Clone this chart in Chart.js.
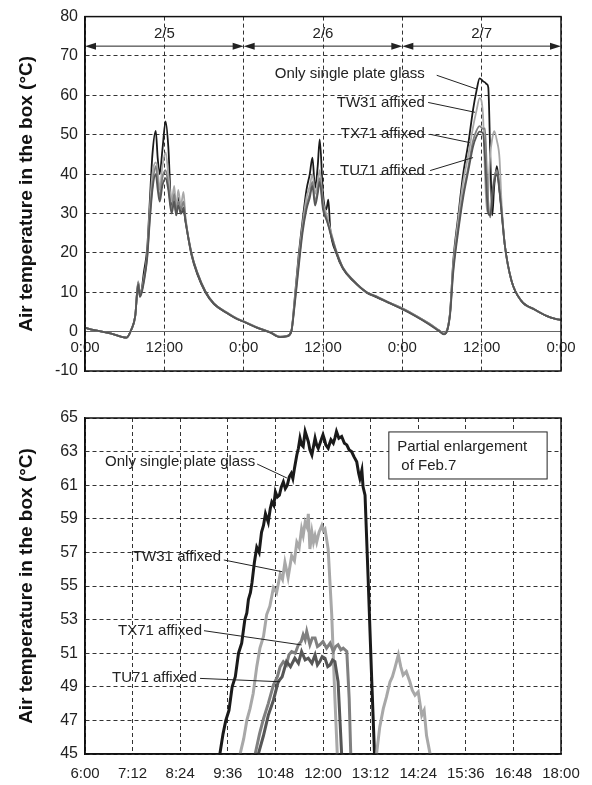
<!DOCTYPE html>
<html>
<head>
<meta charset="utf-8">
<script src="https://cdn.jsdelivr.net/npm/chart.js@4.4.1/dist/chart.umd.min.js"></script>
<style>
  body { margin: 0; background: #fff; }
  .box { position: relative; width: 592px; }
</style>
</head>
<body>
<div class="box" style="height:390px"><canvas id="fullChart" width="592" height="390"></canvas></div>
<div class="box" style="height:395px"><canvas id="zoomChart" width="592" height="395"></canvas></div>
<script>
// ---- data: three days (hours since 2/5 0:00) ----
const seriesNames = ['Only single plate glass', 'TW31 affixed', 'TX71 affixed', 'TU71 affixed'];
const seriesColors = ['#1a1a1a', '#a8a8a8', '#808080', '#565656'];

const topHours = [
  0, 1, 2, 4, 6.3, 7, 7.6, 8.05, 8.3, 8.6, 8.9, 9.4, 9.8, 10.2, 10.7, 11.0, 11.3, 11.7, 12.2, 12.6,
  13.1, 13.5, 13.8, 14.1, 14.5, 14.9, 15.2, 16.1, 17, 18.2, 19.5, 21.4, 23, 24, 26, 28, 29.5, 30.5, 31.2, 31.7,
  32.3, 32.9, 33.5, 34.0, 34.4, 34.8, 35.2, 35.5, 36.0, 36.5, 36.8, 37.1, 38, 39, 40.6, 42.6, 44, 46, 48, 50,
  52, 53.5, 54.3, 55.2, 55.7, 56.5, 57.2, 58, 58.7, 59.2, 59.7, 60.2, 60.5, 60.8, 61.0, 61.3, 61.6, 61.9, 62.3, 62.7,
  63, 63.5, 64.5, 66, 68, 69.8, 71.3, 72
];
const glassTop = [
  1.0, 0.5, 0.2, -0.5, -1.5, 0.5, 4, 12.5, 9.5, 11, 15, 21, 33, 45, 51, 44, 40, 46, 53.4, 47,
  31, 34, 30, 34, 30, 31, 28, 19.5, 14.5, 10, 7, 4.8, 3.2, 2.5, 1.0, -0.2, -1.4, -1.2, 0, 8,
  19, 28, 36, 40, 44.2, 36.5, 42, 48.8, 35, 31, 33.5, 26, 20, 16, 12.8, 9.9, 8.8, 7.3, 5.8, 4,
  2, 0.3, -0.6, 4.5, 17.8, 30, 40, 48, 56.4, 61, 64.3, 63.6, 63.3, 62.8, 62, 45, 29.5, 37, 42, 36,
  31, 22, 13, 7.8, 5.6, 4, 3.2, 3
];
const tw31Top = [
  1.0, 0.5, 0.2, -0.5, -1.5, 0.5, 4, 12.8, 9, 10.5, 13.5, 19.5, 31, 40, 43, 41, 36, 42, 45.5, 40,
  33, 37, 31, 36, 32, 35.5, 29, 20, 15, 10.3, 7.2, 4.9, 3.3, 2.6, 1.1, -0.1, -1.3, -1.1, 0, 7.5,
  18, 27, 34, 37, 40, 35, 38, 41, 33, 30, 28, 26, 20.5, 16.3, 13, 10, 9, 7.4, 5.9, 4.1,
  2.1, 0.4, -0.5, 4.5, 17, 29, 38, 45, 52, 56, 59.3, 55, 40, 30.5, 36, 45, 49, 50.9, 48.5, 44,
  33, 22, 13, 7.8, 5.6, 4, 3.2, 3
];
const tx71Top = [
  1.0, 0.5, 0.2, -0.5, -1.5, 0.5, 4, 12.5, 9, 10.5, 13, 19, 29, 37, 42, 38, 34, 39, 41, 37,
  31, 35, 30, 33, 31, 33, 28.5, 20, 15, 10.3, 7.2, 4.9, 3.3, 2.6, 1.1, -0.1, -1.3, -1.1, 0, 7,
  17, 26, 32, 35, 38, 33, 36, 39, 32, 29, 27, 25.5, 20.5, 16.3, 13, 10, 9, 7.4, 5.9, 4.1,
  2.1, 0.4, -0.5, 4.3, 16, 27, 35, 42, 48.5, 51, 52.2, 51.5, 51.6, 40, 33, 29, 35, 39, 41, 36,
  31, 22, 13, 7.8, 5.6, 4, 3.2, 3
];
const tu71Top = [
  1.0, 0.5, 0.2, -0.5, -1.5, 0.5, 4, 12, 8.8, 10, 12.5, 18.5, 28, 36, 40, 36, 33, 37, 39, 36,
  30, 33, 29.5, 32, 30, 31.5, 28, 19.8, 14.8, 10.2, 7.1, 4.8, 3.2, 2.5, 1.0, -0.2, -1.4, -1.2, 0, 6.5,
  16, 25, 31, 34, 37, 32, 35, 38, 31, 28.5, 27, 25, 20.2, 16.2, 12.9, 10, 8.9, 7.3, 5.7, 3.9,
  1.9, 0.2, -0.7, 4, 15, 26, 34, 41, 47, 49.5, 50.8, 50.4, 44, 34, 30, 29.5, 34, 38, 40, 35.5,
  30.5, 22, 13, 7.8, 5.6, 4, 3.2, 3
];
const topTickHours = [0, 12, 24, 36, 48, 60, 72];
const topTickLabels = ['0:00', '12:00', '0:00', '12:00', '0:00', '12:00', '0:00'];
const dayLabels = ['2/5', '2/6', '2/7'];
const dayStarts = [0, 24, 48];

// ---- data: Feb.7 enlargement (clock hours) ----
const glassHours = [9.30, 9.40, 9.48, 9.55, 9.63, 9.71, 9.79, 9.87, 9.95, 10.03, 10.08, 10.12, 10.17, 10.21, 10.27, 10.33, 10.39, 10.45, 10.50, 10.55,
  10.62, 10.67, 10.71, 10.76, 10.80, 10.85, 10.90, 10.95, 11.00, 11.05, 11.10, 11.15, 11.20, 11.24, 11.28, 11.34, 11.38, 11.42, 11.46, 11.50,
  11.55, 11.59, 11.63, 11.67, 11.72, 11.76, 11.80, 11.84, 11.88, 11.94, 12.00, 12.04, 12.07, 12.13, 12.17, 12.20, 12.26, 12.30, 12.34, 12.40,
  12.47, 12.54, 12.60, 12.66, 12.72, 12.78, 12.85, 12.90, 12.93, 12.98, 13.01, 13.06, 13.14, 13.23, 13.30, 13.36];
const glassZoom = [44.0, 45.0, 46.2, 47.0, 47.6, 49.0, 49.6, 51.0, 51.6, 53.0, 53.4, 54.2, 54.6, 55.2, 56.4, 57.3, 57.0, 58.2, 58.6, 59.3,
  58.8, 59.6, 60.0, 59.8, 60.6, 60.3, 60.4, 60.9, 61.2, 60.8, 61.0, 61.5, 61.7, 61.4, 62.0, 62.8, 63.2, 63.8, 63.4, 63.3,
  64.2, 63.9, 63.6, 63.1, 62.8, 63.3, 63.8, 63.4, 63.2, 63.6, 64.0, 63.7, 63.4, 63.2, 63.5, 63.7, 63.5, 63.8, 64.2, 63.8,
  63.9, 63.5, 63.4, 63.1, 63.0, 62.7, 62.4, 61.7, 61.4, 61.9, 60.9, 60.4, 55.3, 49.3, 44.9, 43.0];
const tw31Hours = [9.85, 9.91, 10.00, 10.08, 10.16, 10.24, 10.33, 10.41, 10.50, 10.58, 10.66, 10.75, 10.83, 10.92, 10.98, 11.04, 11.12, 11.21, 11.28, 11.34,
  11.40, 11.46, 11.50, 11.55, 11.60, 11.63, 11.67, 11.72, 11.76, 11.80, 11.84, 11.90, 11.97, 12.01, 12.05, 12.13, 12.22, 12.30, 12.36, 12.42,
  13.30, 13.35, 13.43, 13.52, 13.60, 13.69, 13.75, 13.81, 13.90, 13.96, 14.02, 14.10, 14.19, 14.25, 14.32, 14.40, 14.49, 14.55, 14.61, 14.70, 14.76];
const tw31Zoom = [44.0, 45.0, 45.9, 47.0, 47.7, 48.6, 50.2, 51.3, 52.0, 53.3, 53.8, 54.9, 54.6, 55.7, 55.4, 56.4, 55.5, 56.8, 56.5, 57.6,
  57.3, 58.4, 58.0, 58.8, 58.5, 59.3, 57.2, 58.2, 57.6, 58.0, 57.6, 58.2, 58.6, 58.3, 58.4, 57.2, 53.3, 48.3, 45.0, 43.0,
  43.5, 45.0, 46.6, 47.7, 48.4, 49.3, 49.6, 50.1, 50.9, 50.2, 49.7, 49.9, 49.3, 48.8, 48.5, 48.7, 47.3, 47.6, 46.1, 45.0, 44.0];
const tx71Hours = [10.22, 10.29, 10.40, 10.50, 10.62, 10.75, 10.85, 10.92, 11.00, 11.08, 11.14, 11.21, 11.30, 11.38, 11.45, 11.50, 11.55, 11.59,
  11.67, 11.73, 11.80, 11.86, 11.92, 12.00, 12.09, 12.18, 12.26, 12.32, 12.38, 12.45, 12.51, 12.60, 12.66, 12.70, 12.75];
const tx71Zoom = [44.0, 45.0, 46.2, 47.1, 48.0, 49.1, 49.6, 50.2, 50.5, 50.3, 50.9, 51.1, 51.0, 51.5, 51.7, 52.1, 51.8, 52.3,
  51.5, 51.9, 51.9, 51.4, 51.5, 51.7, 51.3, 51.6, 51.1, 51.4, 51.5, 51.2, 51.3, 51.1, 48.3, 45.0, 44.0];
const tu71Hours = [10.30, 10.37, 10.50, 10.62, 10.75, 10.87, 10.97, 11.08, 11.18, 11.29, 11.38, 11.46, 11.55, 11.63,
  11.72, 11.80, 11.86, 11.92, 11.98, 12.05, 12.12, 12.18, 12.24, 12.30, 12.38, 12.47, 12.52];
const tu71Zoom = [44.0, 45.0, 46.1, 47.3, 48.2, 49.3, 49.6, 50.5, 50.2, 50.7, 50.4, 51.1, 50.6, 50.7,
  50.4, 50.9, 50.3, 50.5, 50.8, 50.7, 50.2, 50.3, 50.6, 50.5, 49.3, 45.0, 44.0];
const zoomTickHours = [6, 7.2, 8.4, 9.6, 10.8, 12, 13.2, 14.4, 15.6, 16.8, 18];
const zoomTickLabels = ['6:00', '7:12', '8:24', '9:36', '10:48', '12:00', '13:12', '14:24', '15:36', '16:48', '18:00'];

const FONT = '"Liberation Sans", Arial, Helvetica, sans-serif';
const yTitle = 'Air temperature in the box (\u00B0C)';

function toPoints(xs, ys) {
  return xs.map((x, i) => ({ x: x, y: ys[i] }));
}

// frame, leader lines, note texts, day arrows, box
const notesPlugin = {
  id: 'notes',
  afterDatasetsDraw(chart, args, opts) {
    const { ctx, chartArea: a, scales } = chart;
    const X = v => scales.x.getPixelForValue(v);
    const Y = v => scales.y.getPixelForValue(v);
    ctx.save();
    ctx.setLineDash([]);
    ctx.strokeStyle = '#111';
    ctx.lineWidth = 1.5;
    ctx.strokeRect(a.left, a.top, a.right - a.left, a.bottom - a.top);

    ctx.lineWidth = 1;
    ctx.strokeStyle = '#222';
    (opts.leaders || []).forEach(l => {
      ctx.beginPath();
      ctx.moveTo(X(l[0]), Y(l[1]));
      ctx.lineTo(X(l[2]), Y(l[3]));
      ctx.stroke();
    });

    ctx.font = '15px ' + FONT;
    ctx.fillStyle = '#222';
    ctx.textBaseline = 'middle';
    (opts.labels || []).forEach(t => {
      ctx.textAlign = t.align || 'right';
      ctx.fillText(t.text, X(t.x), Y(t.y));
    });

    if (opts.days) {
      const d = opts.days;
      d.starts.forEach((s, i) => {
        const x1 = X(s), x2 = X(s + d.span), y = Y(d.arrowY);
        ctx.beginPath();
        ctx.moveTo(x1 + 8, y);
        ctx.lineTo(x2 - 8, y);
        ctx.stroke();
        ctx.beginPath();
        ctx.moveTo(x1, y); ctx.lineTo(x1 + 11, y - 3.5); ctx.lineTo(x1 + 11, y + 3.5); ctx.closePath();
        ctx.moveTo(x2, y); ctx.lineTo(x2 - 11, y - 3.5); ctx.lineTo(x2 - 11, y + 3.5); ctx.closePath();
        ctx.fill();
        ctx.textAlign = 'center';
        ctx.fillText(d.labels[i], X(s + d.span / 2), Y(d.labelY));
      });
    }

    if (opts.box) {
      const b = opts.box;
      const bx = X(b.x1), by = Y(b.y1);
      ctx.fillStyle = '#fff';
      ctx.fillRect(bx, by, X(b.x2) - bx, Y(b.y2) - by);
      ctx.strokeStyle = '#222';
      ctx.lineWidth = 1;
      ctx.strokeRect(bx, by, X(b.x2) - bx, Y(b.y2) - by);
      ctx.fillStyle = '#222';
      ctx.textAlign = 'left';
      b.lines.forEach(t => ctx.fillText(t.text, X(t.x), Y(t.y)));
    }
    ctx.restore();
  }
};

function lineSet(i, xs, ys, width, smooth) {
  const ds = {
    label: seriesNames[i],
    data: toPoints(xs, ys),
    borderColor: seriesColors[i],
    borderWidth: width,
    pointRadius: 0,
    tension: 0,
    clip: 0,
    order: 4 - i
  };
  if (smooth) {
    ds.cubicInterpolationMode = 'monotone';
  }
  return ds;
}

const yTitleOpts = {
  display: true,
  text: yTitle,
  color: '#111',
  font: { family: FONT, size: 19, weight: 'bold' },
  padding: { top: 15, bottom: 0 }
};

// ---- top chart: 2/5 - 2/7 ----
new Chart(document.getElementById('fullChart'), {
  type: 'line',
  data: {
    datasets: [
      lineSet(0, topHours, glassTop, 1.8, true),
      lineSet(1, topHours, tw31Top, 1.8, true),
      lineSet(2, topHours, tx71Top, 1.8, true),
      lineSet(3, topHours, tu71Top, 1.8, true)
    ]
  },
  options: {
    responsive: false,
    animation: false,
    layout: { padding: { left: 0, right: 31, top: 13, bottom: 19 } },
    plugins: {
      legend: { display: false },
      tooltip: { enabled: false },
      notes: {
        labels: [
          { text: 'Only single plate glass', x: 51.4, y: 65.4 },
          { text: 'TW31 affixed', x: 51.4, y: 58.0 },
          { text: 'TX71 affixed', x: 51.4, y: 50.1 },
          { text: 'TU71 affixed', x: 51.4, y: 40.9 }
        ],
        leaders: [
          [53.2, 65.1, 59.25, 61.6],
          [51.9, 58.2, 59.0, 55.7],
          [52.2, 50.1, 58.2, 48.0],
          [52.2, 40.9, 58.7, 44.2]
        ],
        days: { starts: dayStarts, span: 24, labels: dayLabels, arrowY: 72.5, labelY: 75.6 }
      }
    },
    scales: {
      x: {
        type: 'linear',
        position: { y: 0 },
        min: 0,
        max: 72,
        afterBuildTicks: s => { s.ticks = topTickHours.map(v => ({ value: v })); },
        ticks: {
          callback: (v, i) => topTickLabels[i],
          font: { family: FONT, size: 15 },
          color: '#222',
          padding: 7,
          maxRotation: 0,
          autoSkip: false
        },
        grid: { color: '#333', lineWidth: 1, drawTicks: false },
        border: { display: true, color: '#666', width: 1, dash: [4, 3] }
      },
      y: {
        min: -10,
        max: 80,
        afterFit: s => { s.width = 85; },
        ticks: {
          stepSize: 10,
          font: { family: FONT, size: 16 },
          color: '#222',
          padding: 7
        },
        grid: {
          color: c => (c.tick && c.tick.value === 0 ? 'rgba(0,0,0,0)' : '#333'),
          lineWidth: 1,
          drawTicks: false
        },
        border: { display: true, color: '#111', width: 1.5, dash: [4, 3] },
        title: yTitleOpts
      }
    }
  },
  plugins: [notesPlugin]
});

// ---- bottom chart: partial enlargement of Feb.7 ----
new Chart(document.getElementById('zoomChart'), {
  type: 'line',
  data: {
    datasets: [
      lineSet(0, glassHours, glassZoom, 3, false),
      lineSet(1, tw31Hours, tw31Zoom, 3, false),
      lineSet(2, tx71Hours, tx71Zoom, 3, false),
      lineSet(3, tu71Hours, tu71Zoom, 3, false)
    ]
  },
  options: {
    responsive: false,
    animation: false,
    layout: { padding: { left: 0, right: 31, top: 28, bottom: 0 } },
    plugins: {
      legend: { display: false },
      tooltip: { enabled: false },
      notes: {
        labels: [
          { text: 'Only single plate glass', x: 10.29, y: 62.4 },
          { text: 'TW31 affixed', x: 9.43, y: 56.74 },
          { text: 'TX71 affixed', x: 8.95, y: 52.34 },
          { text: 'TU71 affixed', x: 8.82, y: 49.54 }
        ],
        leaders: [
          [10.34, 62.26, 11.09, 61.43],
          [9.50, 56.55, 10.97, 55.85],
          [9.00, 52.34, 11.46, 51.49],
          [8.90, 49.50, 10.92, 49.30]
        ],
        box: {
          x1: 13.66, x2: 17.65, y1: 64.17, y2: 61.37,
          lines: [
            { text: 'Partial enlargement', x: 13.87, y: 63.27 },
            { text: ' of Feb.7', x: 13.87, y: 62.14 }
          ]
        }
      }
    },
    scales: {
      x: {
        type: 'linear',
        min: 6,
        max: 18,
        afterFit: s => { s.height = 31; },
        afterBuildTicks: s => { s.ticks = zoomTickHours.map(v => ({ value: v })); },
        ticks: {
          callback: (v, i) => zoomTickLabels[i],
          font: { family: FONT, size: 15 },
          color: '#222',
          padding: 11,
          maxRotation: 0,
          autoSkip: false
        },
        grid: { color: '#333', lineWidth: 1, drawTicks: false },
        border: { display: true, color: '#111', width: 1.5, dash: [4, 3] }
      },
      y: {
        min: 45,
        max: 65,
        afterFit: s => { s.width = 85; },
        ticks: {
          stepSize: 2,
          font: { family: FONT, size: 16 },
          color: '#222',
          padding: 7
        },
        grid: { color: '#333', lineWidth: 1, drawTicks: false },
        border: { display: true, color: '#111', width: 1.5, dash: [4, 3] },
        title: yTitleOpts
      }
    }
  },
  plugins: [notesPlugin]
});
</script>
</body>
</html>
